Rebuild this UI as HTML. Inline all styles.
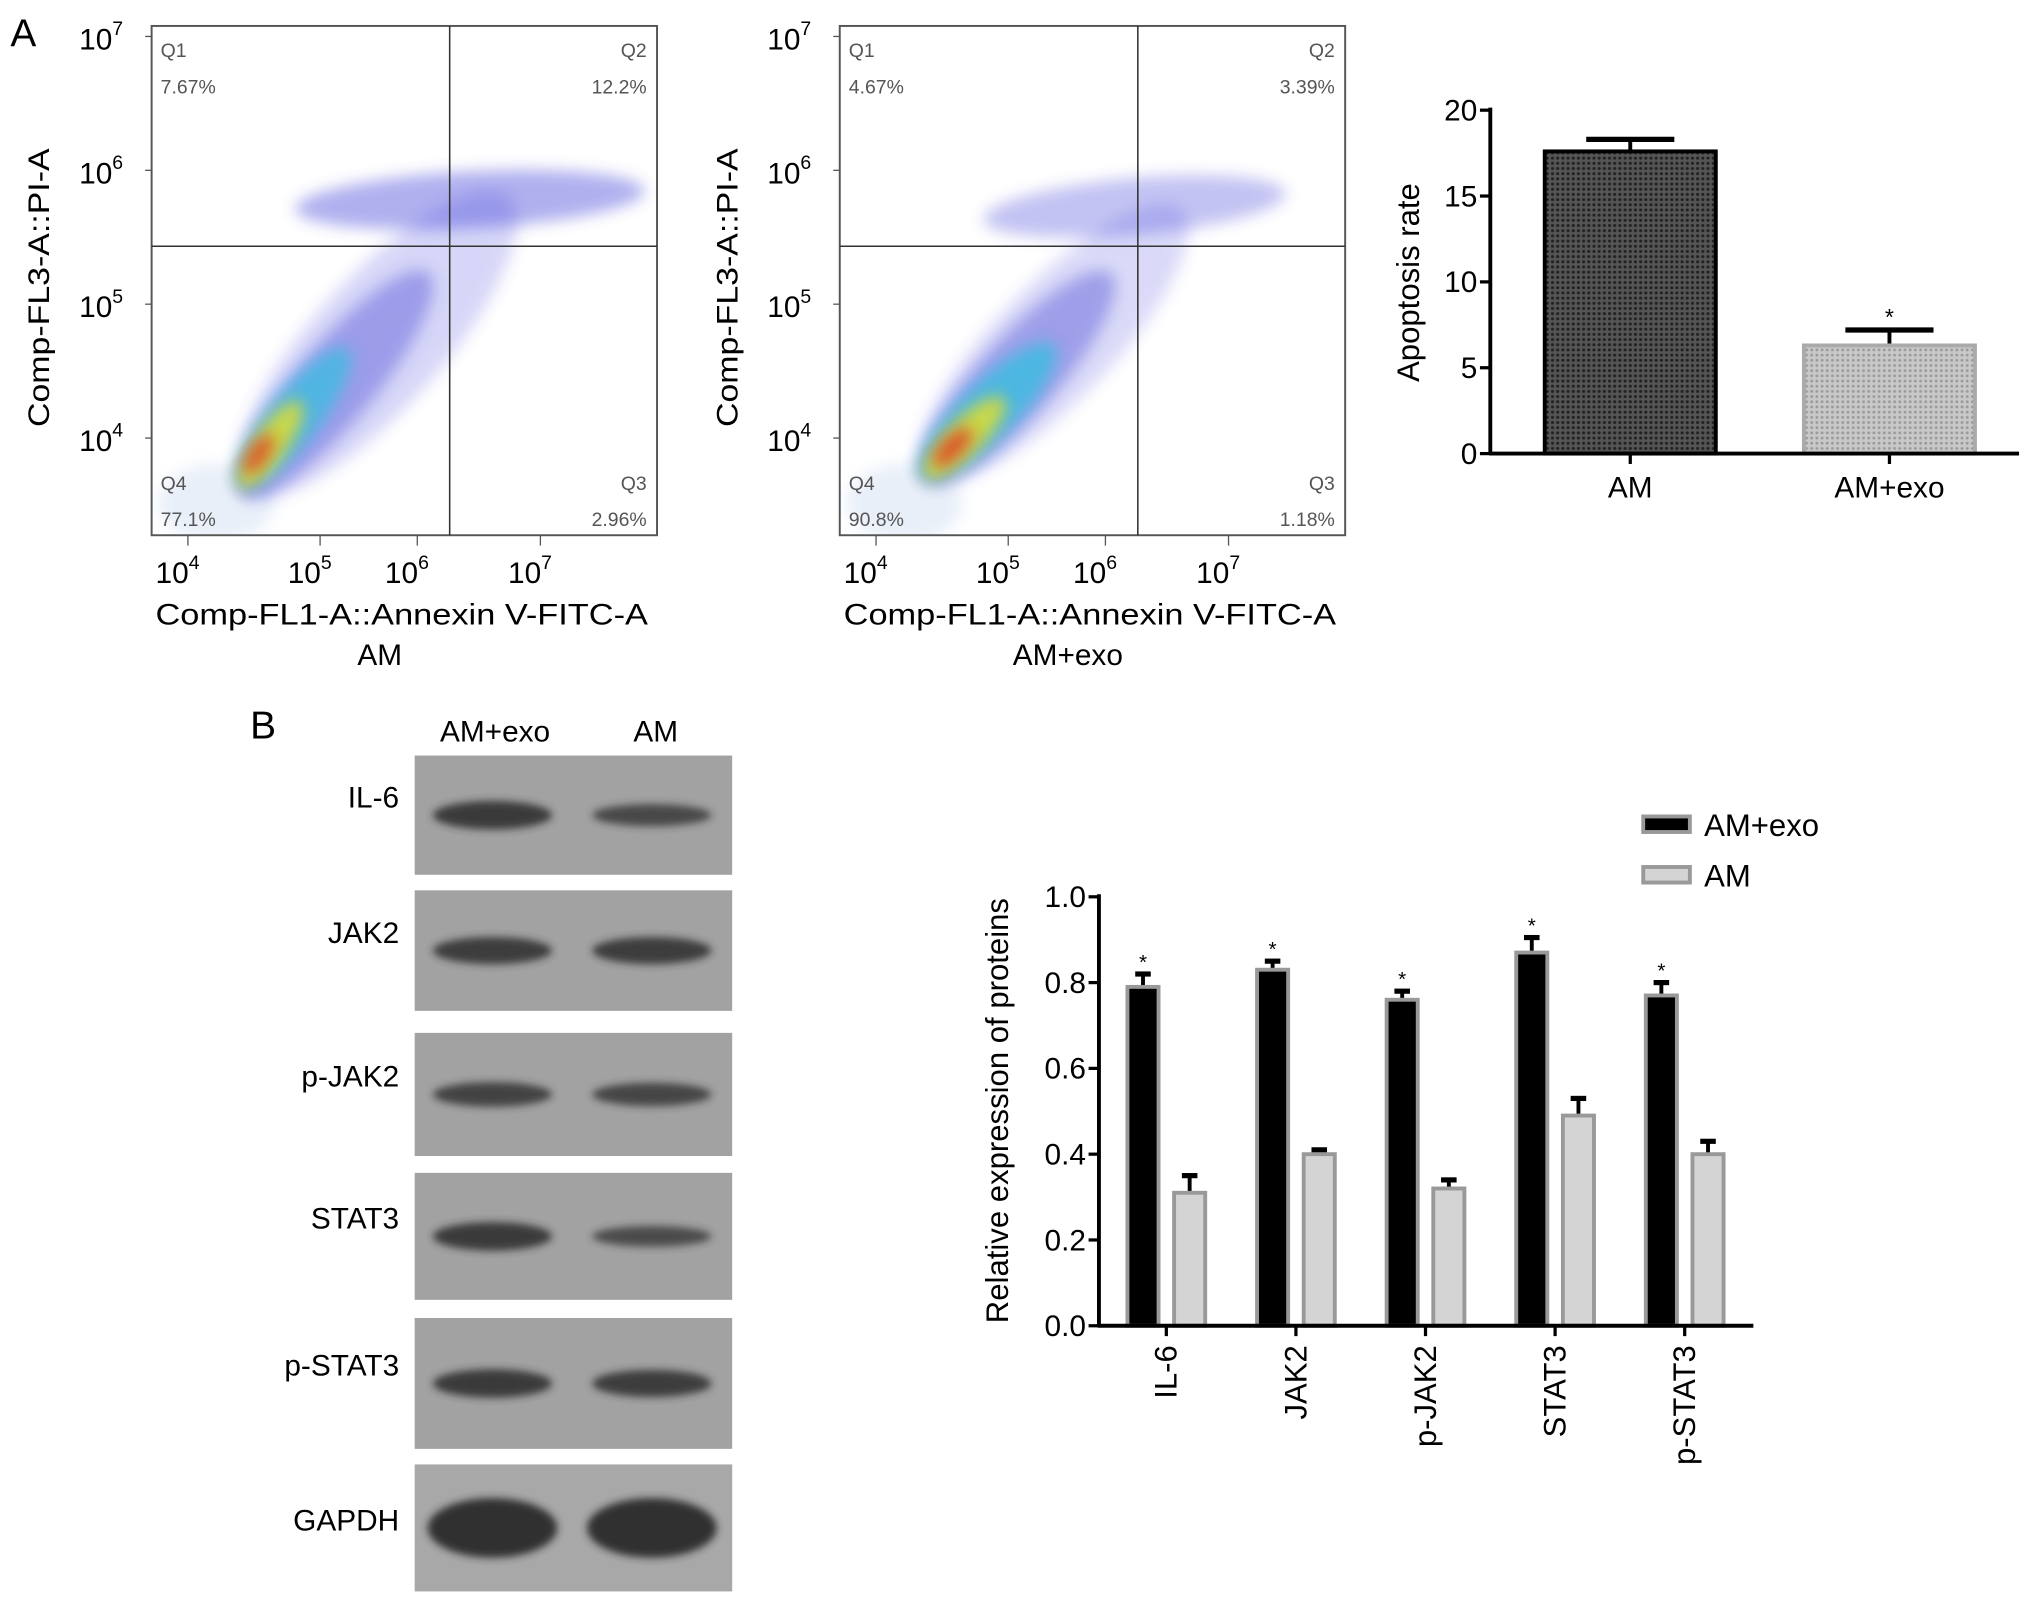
<!DOCTYPE html>
<html><head><meta charset="utf-8"><style>
html,body{margin:0;padding:0;background:#fff}
svg{display:block;font-family:"Liberation Sans",Arial,sans-serif}
</style></head><body>
<svg id="fig" width="2032" height="1607" viewBox="0 0 1568 1240" xmlns="http://www.w3.org/2000/svg">
<defs>
<filter id="blur6" x="-50%" y="-50%" width="200%" height="200%"><feGaussianBlur stdDeviation="6"/></filter>
<filter id="blur3" x="-50%" y="-50%" width="200%" height="200%"><feGaussianBlur stdDeviation="3"/></filter>
<pattern id="hatchDark" width="4" height="4" patternUnits="userSpaceOnUse"><rect width="4" height="4" fill="#555"/><circle cx="2" cy="2" r="1.2" fill="#222"/></pattern>
<pattern id="hatchLight" width="4" height="4" patternUnits="userSpaceOnUse"><rect width="4" height="4" fill="#c8c8c8"/><circle cx="2" cy="2" r="1.1" fill="#9a9a9a"/></pattern>
</defs>
<text x="8" y="36" font-size="30">A</text>
<g id="flow1"></g>
<g id="flow2"></g>
<g id="apop"></g>
<text x="193" y="570" font-size="30">B</text>
<g id="blot"></g>
<g id="prot"></g>
</svg>
<script>
const NS='http://www.w3.org/2000/svg';
function mk(p,tag,a,txt){const e=document.createElementNS(NS,tag);for(const k in a)e.setAttribute(k,a[k]);if(txt!==undefined)e.textContent=txt;p.appendChild(e);return e;}

// ---------- Flow cytometry data ----------
const flowTitles=['AM','AM+exo'];
const flowQ1=['7.67%','4.67%'];
const flowQ2=['12.2%','3.39%'];
const flowQ3=['2.96%','1.18%'];
const flowQ4=['77.1%','90.8%'];
const flowYTicks=['7','6','5','4'];
const flowXTicks=['4','5','6','7'];
// clusters: [xlog, ylog, rx(dec), ry(dec), angle, color, opacity]
const flowClustersAM=[[5.6,4.7,1.7,0.5,-48,'#4848e0',0.22],[5.25,4.4,1.25,0.3,-50,'#3030d0',0.35],[6.4,5.78,1.5,0.22,-3,'#3a3ad8',0.4],[4.9,4.15,0.75,0.2,-52,'#30c0e0',0.7],[4.7,3.95,0.45,0.13,-55,'#e8e020',0.8],[4.6,3.88,0.2,0.07,-55,'#e03020',0.8]];
const flowClustersEXO=[[5.5,4.7,1.6,0.45,-46,'#4848e0',0.2],[5.2,4.45,1.2,0.3,-48,'#3030d0',0.35],[6.2,5.73,1.3,0.22,-5,'#3a3ad8',0.3],[4.95,4.2,0.8,0.22,-45,'#30c0e0',0.75],[4.75,4.0,0.48,0.14,-45,'#e8e020',0.8],[4.65,3.93,0.22,0.08,-45,'#e03020',0.8]];

function flowPlot(g,ox,idx,clusters){
  const L=ox+117,R=ox+507,T=20,B=413;
  const xs=v=>ox+145+(v-4)*90.7, ys=v=>338-(v-4)*103.3;
  // tick axis (bi-exponential display): piecewise
  const xt=v=>ox+({4:145,5:247,6:322,7:417})[v];
  const clip='c'+idx;
  const cp=mk(g,'clipPath',{id:clip});mk(cp,'rect',{x:L,y:T,width:R-L,height:B-T});
  const cg=mk(g,'g',{'clip-path':'url(#'+clip+')'});
  mk(cg,'ellipse',{cx:L+50,cy:B-25,rx:45,ry:30,fill:'#c8d8f0',opacity:0.4,filter:'url(#blur6)'});
  clusters.forEach(c=>{
    const e=mk(cg,'ellipse',{cx:xs(c[0]),cy:ys(c[1]),rx:c[2]*90,ry:c[3]*100,fill:c[5],opacity:c[6],filter:'url(#blur6)',transform:`rotate(${c[4]} ${xs(c[0])} ${ys(c[1])})`});
    
    
  });
  mk(g,'rect',{x:L,y:T,width:R-L,height:B-T,fill:'none',stroke:'#555','stroke-width':1.5,});
  mk(g,'line',{x1:ox+347,y1:T,x2:ox+347,y2:B,stroke:'#333','stroke-width':1.2,});
  mk(g,'line',{x1:L,y1:190,x2:R,y2:190,stroke:'#333','stroke-width':1.2,});
  const q=[['Q1',44],['Q2',44],['Q3',378],['Q4',378]];
  const qv=[flowQ1[idx],flowQ2[idx],flowQ3[idx],flowQ4[idx]];
  q.forEach((a,i)=>{
    const lx=i%3===0?L+7:R-8, anc=i%3===0?'start':'end';
    mk(g,'text',{x:lx,y:a[1],'font-size':15,fill:'#555','text-anchor':anc,},a[0]);
    mk(g,'text',{x:lx,y:a[1]+28,'font-size':15,fill:'#555','text-anchor':anc,},qv[i]);
  });
  flowYTicks.forEach(t=>{
    const y=ys(+t);
    const tx=mk(g,'text',{x:ox+95,y:y+10,'font-size':23,'text-anchor':'end',},'10');
    mk(tx,'tspan',{'font-size':15,dy:-11},t);
    mk(g,'line',{x1:L-5,y1:y,x2:L,y2:y,stroke:'#555'});
  });
  flowXTicks.forEach(t=>{
    const x=xt(+t);
    const tx=mk(g,'text',{x:x-8,y:450,'font-size':23,'text-anchor':'middle',},'10');
    mk(tx,'tspan',{'font-size':15,dy:-11},t);
    mk(g,'line',{x1:x,y1:B,x2:x,y2:B+8,stroke:'#555'});
  });
  mk(g,'text',{x:ox+310,y:482,'font-size':23,'text-anchor':'middle',textLength:380,lengthAdjust:'spacingAndGlyphs',},'Comp-FL1-A::Annexin V-FITC-A');
  mk(g,'text',{x:ox+293,y:513,'font-size':23,'text-anchor':'middle',},flowTitles[idx]);
  mk(g,'text',{x:0,y:0,'font-size':23,'text-anchor':'middle',transform:`translate(${ox+38},222) rotate(-90)`,textLength:215,lengthAdjust:'spacingAndGlyphs',},'Comp-FL3-A::PI-A');
}
flowPlot(document.getElementById('flow1'),0,0,flowClustersAM);
flowPlot(document.getElementById('flow2'),531,1,flowClustersEXO);

// ---------- Apoptosis bar chart ----------
const apopCats=['AM','AM+exo'];
const apopVals=[17.6,6.3];
const apopErr=[0.7,0.9];
const apopStar=['','*'];
const apopTicks=[0,5,10,15,20];
(function(){
  const g=document.getElementById('apop');
  const y=v=>350-v*(350-85)/20;
  const cx=[1258,1458],fills=['url(#hatchDark)','url(#hatchLight)'],strokes=['#000','#aaa'];
  apopVals.forEach((v,i)=>{
    const top=y(v+apopErr[i]);
    mk(g,'line',{x1:cx[i],y1:y(v),x2:cx[i],y2:top,stroke:'#000','stroke-width':3});
    const e=mk(g,'line',{x1:cx[i]-34,y1:top,x2:cx[i]+34,y2:top,stroke:'#000','stroke-width':4});
    
    
    const r=mk(g,'rect',{x:cx[i]-66,y:y(v),width:132,height:y(0)-y(v),fill:fills[i],stroke:strokes[i],'stroke-width':3});
    
    
    if(apopStar[i]) mk(g,'text',{x:cx[i],y:top-4,'font-size':18,'text-anchor':'middle',},apopStar[i]);
    mk(g,'line',{x1:cx[i],y1:350,x2:cx[i],y2:358,stroke:'#000','stroke-width':2.5});
    mk(g,'text',{x:cx[i],y:384,'font-size':23,'text-anchor':'middle',},apopCats[i]);
  });
  mk(g,'line',{x1:1150,y1:83,x2:1150,y2:351,stroke:'#000','stroke-width':3,});
  mk(g,'line',{x1:1149,y1:350,x2:1558,y2:350,stroke:'#000','stroke-width':3,});
  apopTicks.forEach(t=>{
    mk(g,'line',{x1:1142,y1:y(t),x2:1150,y2:y(t),stroke:'#000','stroke-width':2.5});
    mk(g,'text',{x:1140,y:y(t)+8,'font-size':23,'text-anchor':'end',},t);
  });
  mk(g,'text',{x:0,y:0,'font-size':24,'text-anchor':'middle',transform:'translate(1095,218) rotate(-90)',},'Apoptosis rate');
})();

// ---------- Western blot ----------
const blotLanes=['AM+exo','AM'];
const blotProteins=['IL-6','JAK2','p-JAK2','STAT3','p-STAT3','GAPDH'];
const blotTop=[583,687,797,905,1017,1130];
const blotBot=[675,780,892,1003,1118,1228];
const blotIntExo=[0.8,0.75,0.65,0.8,0.8,1.0];
const blotIntAM=[0.55,0.75,0.6,0.5,0.75,1.0];
(function(){
  const g=document.getElementById('blot');
  mk(g,'text',{x:382,y:572,'font-size':23,'text-anchor':'middle',},blotLanes[0]);
  mk(g,'text',{x:506,y:572,'font-size':23,'text-anchor':'middle',},blotLanes[1]);
  blotProteins.forEach((p,i)=>{
    const t=blotTop[i],b=blotBot[i],mid=(t+b)/2;
    const r=mk(g,'rect',{x:320,y:t,width:245,height:b-t,fill:i===5?'#a8a8a8':'#a2a2a2'});
    
    
    const h=i===5?20:10;
    [[380,blotIntExo[i]],[503,blotIntAM[i]]].forEach(l=>{
      const e=mk(g,'ellipse',{cx:l[0],cy:mid,rx:i===5?50:46,ry:h*l[1]+3,fill:'#2a2a2a',opacity:0.5+0.45*l[1],filter:'url(#blur3)'});
      
      
    });
    mk(g,'text',{x:308,y:mid+2-(i<5?8:0),'font-size':23,'text-anchor':'end',},p);
  });
})();

// ---------- Protein bar chart ----------
const protCats=['IL-6','JAK2','p-JAK2','STAT3','p-STAT3'];
const protExo=[0.79,0.83,0.76,0.87,0.77];
const protExoErr=[0.03,0.02,0.02,0.035,0.03];
const protAM=[0.31,0.40,0.32,0.49,0.40];
const protAMErr=[0.04,0.01,0.02,0.04,0.03];
const protTicks=['0.0','0.2','0.4','0.6','0.8','1.0'];
(function(){
  const g=document.getElementById('prot');
  const y=v=>1023-v*(1023-692);
  const gx=i=>900+i*100;
  protCats.forEach((c,i)=>{
    [[protExo,protExoErr,-18,'#000','bar-am-exo-'],[protAM,protAMErr,18,'#d4d4d4','bar-am-']].forEach(s=>{
      const v=s[0][i],e=s[1][i],x=gx(i)+s[2];
      const top=y(v+e);
      mk(g,'line',{x1:x,y1:y(v),x2:x,y2:top,stroke:'#000','stroke-width':3});
      mk(g,'line',{x1:x-6,y1:top,x2:x+6,y2:top,stroke:'#000','stroke-width':4});
      const r=mk(g,'rect',{x:x-12,y:y(v),width:24,height:y(0)-y(v),fill:s[3],stroke:'#999','stroke-width':3});
      
      
      if(s[2]<0) mk(g,'text',{x:x,y:top-4,'font-size':16,'text-anchor':'middle',},'*');
    });
    mk(g,'line',{x1:gx(i),y1:1023,x2:gx(i),y2:1031,stroke:'#000','stroke-width':2.5});
    mk(g,'text',{x:0,y:0,'font-size':24,'text-anchor':'end',transform:`translate(${gx(i)+8},1038) rotate(-90)`,},c);
  });
  mk(g,'line',{x1:848,y1:690,x2:848,y2:1024,stroke:'#000','stroke-width':3,});
  mk(g,'line',{x1:847,y1:1023,x2:1353,y2:1023,stroke:'#000','stroke-width':3,});
  protTicks.forEach(t=>{
    mk(g,'line',{x1:840,y1:y(+t),x2:848,y2:y(+t),stroke:'#000','stroke-width':2.5});
    mk(g,'text',{x:838,y:y(+t)+8,'font-size':23,'text-anchor':'end',},t);
  });
  mk(g,'text',{x:0,y:0,'font-size':24,'text-anchor':'middle',transform:'translate(778,857) rotate(-90)',},'Relative expression of proteins');
  mk(g,'rect',{x:1268,y:630,width:36,height:12,fill:'#000',stroke:'#999','stroke-width':3,});
  mk(g,'text',{x:1315,y:645,'font-size':24,},'AM+exo');
  mk(g,'rect',{x:1268,y:669,width:36,height:12,fill:'#d4d4d4',stroke:'#999','stroke-width':3,});
  mk(g,'text',{x:1315,y:684,'font-size':24,},'AM');
})();
</script>
</body></html>
